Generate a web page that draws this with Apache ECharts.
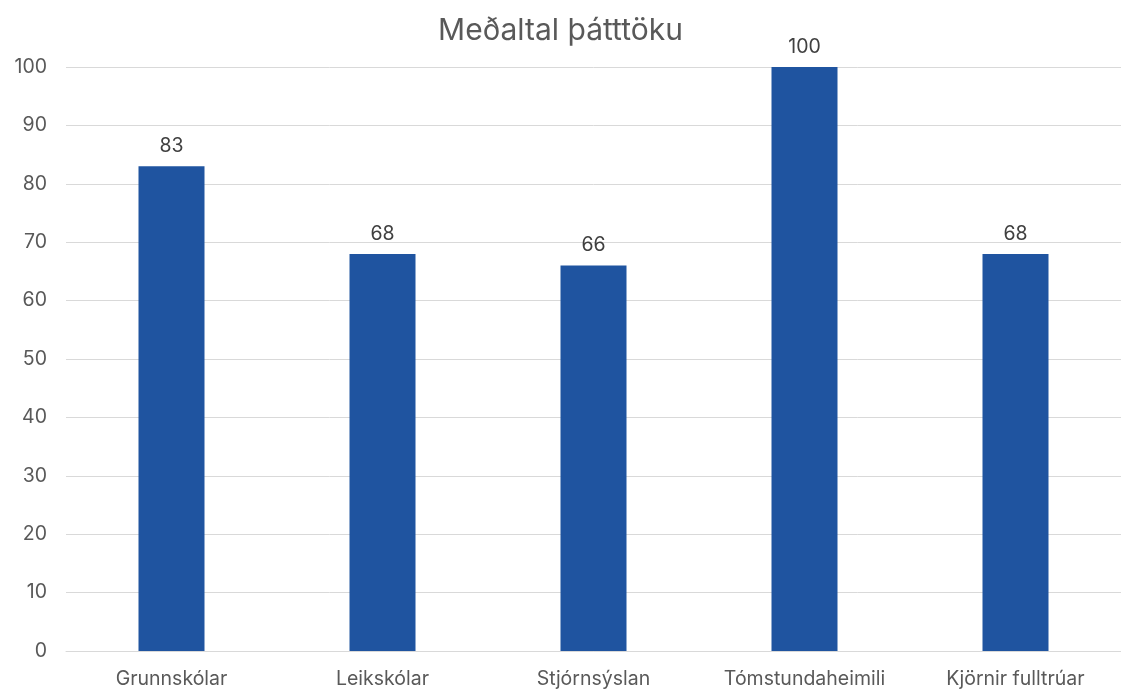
<!DOCTYPE html>
<html><head><meta charset="utf-8">
<script src="https://cdn.jsdelivr.net/npm/echarts@6/dist/echarts.min.js"></script>
<style>html,body{margin:0;padding:0;background:#fff}#c{width:1121px;height:690px}</style>
</head><body><div id="c"></div>
<script>
const categories = ["Grunnskólar","Leikskólar","Stjórnsýslan","Tómstundaheimili","Kjörnir fulltrúar"];
const values = [83, 68, 66, 100, 68];
const FONT = 'Inter, "Open Sans", sans-serif';
const chart = echarts.init(document.getElementById('c'), null, {renderer:'canvas'});
chart.setOption({
  animation:false,
  title:{text:'Meðaltal þátttöku', left:'center', top:11, textStyle:{fontFamily:FONT, fontSize:30, fontWeight:'normal', color:'#595959'}},
  grid:{left:66, right:-3, top:67, bottom:39, containLabel:false},
  xAxis:{type:'category', data:categories,
    axisLine:{show:true, lineStyle:{color:'#d9d9d9', width:1}}, axisTick:{show:false},
    axisLabel:{color:'#595959', fontSize:19.5, fontFamily:FONT, margin:18}},
  yAxis:{type:'value', min:0, max:100, interval:10,
    axisLine:{show:false}, axisTick:{show:false},
    splitLine:{lineStyle:{color:'#d9d9d9', width:1}},
    axisLabel:{color:'#595959', fontSize:19.5, fontFamily:FONT, margin:19}},
  series:[{type:'bar', data:values, barWidth:66, itemStyle:{color:'#1F54A0'},
    label:{show:true, position:'top', distance:10, color:'#404040', fontSize:19.5, fontFamily:FONT}}]
});
</script></body></html>
